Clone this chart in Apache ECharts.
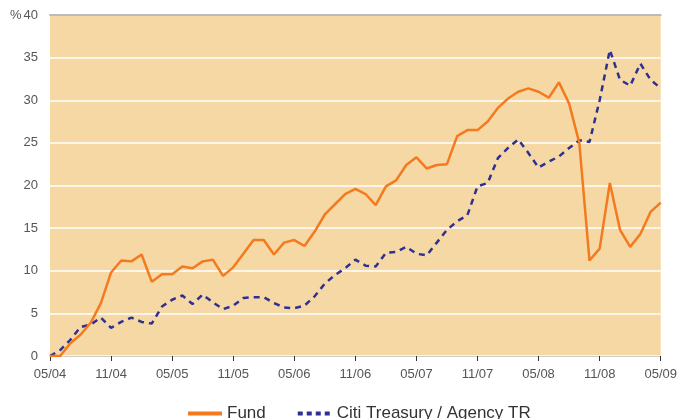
<!DOCTYPE html>
<html>
<head>
<meta charset="utf-8">
<script src="https://cdn.jsdelivr.net/npm/echarts@6/dist/echarts.min.js"></script>
<style>
  html, body { margin: 0; padding: 0; background: #fff; }
  #chart { width: 680px; height: 419px; }
</style>
</head>
<body>
<div id="chart"></div>
<script>
// monthly, 05/04 .. 05/09
const months = [];
for (let y = 4; y <= 9; y++) {
  for (let m = 1; m <= 12; m++) {
    if ((y === 4 && m < 5) || (y === 9 && m > 5)) continue;
    months.push(String(m).padStart(2, "0") + "/" + String(y).padStart(2, "0"));
  }
}

const fund = [
  0, 0, 1.5, 2.5, 3.9, 6.2, 9.8, 11.2, 11.1, 11.9,
  8.7, 9.6, 9.6, 10.5, 10.3, 11.1, 11.3, 9.4, 10.4, 12.0,
  13.6, 13.6, 11.9, 13.3, 13.6, 12.9, 14.6, 16.6, 17.8, 19.0,
  19.6, 19.0, 17.7, 19.9, 20.6, 22.4, 23.3, 22.0, 22.4, 22.5,
  25.8, 26.5, 26.5, 27.5, 29.1, 30.2, 31.0, 31.4, 31.0, 30.3,
  32.1, 29.6, 25.0, 11.2, 12.6, 20.3, 14.8, 12.8, 14.3, 16.9,
  18.0
];

const citi = [
  0, 0.7, 1.9, 3.4, 3.7, 4.5, 3.3, 4.0, 4.5, 4.0,
  3.8, 5.8, 6.6, 7.1, 6.1, 7.2, 6.3, 5.5, 5.9, 6.8,
  6.9, 6.9, 6.2, 5.7, 5.6, 5.9, 7.0, 8.5, 9.5, 10.3,
  11.3, 10.6, 10.5, 12.1, 12.2, 12.8, 12.0, 11.8, 13.3, 14.8,
  15.8, 16.5, 19.9, 20.3, 23.2, 24.4, 25.4, 23.8, 22.1, 22.8,
  23.4, 24.4, 25.3, 25.1, 30.0, 35.9, 32.4, 31.7, 34.3, 32.4,
  31.4
];

const chart = echarts.init(document.getElementById("chart"));
chart.setOption({
  animation: false,
  grid: {
    left: 50,
    right: 19,
    top: 15,
    bottom: 63,
    show: true,
    backgroundColor: "#f6d8a4",
    borderWidth: 0
  },
  legend: {
    left: 181,
    top: 400,
    itemWidth: 34,
    itemHeight: 10,
    itemGap: 30,
    itemStyle: { opacity: 0 },
    textStyle: { color: "#333", fontSize: 17, fontFamily: "Liberation Sans, Arial" },
    data: [
      { name: "Fund", lineStyle: { width: 4 } },
      { name: "Citi Treasury / Agency TR", lineStyle: { width: 4, type: [5, 4] } }
    ]
  },
  xAxis: [
    {
      type: "category",
      data: months,
      boundaryGap: false,
      axisLine: { lineStyle: { color: "#ccc", width: 1 } },
      axisTick: { interval: 5, length: 5, inside: false, lineStyle: { color: "#333" } },
      axisLabel: {
        interval: 5,
        color: "#555",
        fontSize: 13,
        margin: 12,
        fontFamily: "Liberation Sans, Arial"
      },
      splitLine: { show: false }
    },
    {
      type: "category",
      data: months,
      position: "top",
      boundaryGap: false,
      axisLine: { lineStyle: { color: "#bbb", width: 2 } },
      axisTick: { show: false },
      axisLabel: { show: false }
    }
  ],
  yAxis: {
    type: "value",
    min: 0,
    max: 40,
    interval: 5,
    axisLine: { show: false },
    axisTick: { show: false },
    axisLabel: {
      color: "#555",
      fontSize: 13,
      margin: 12,
      fontFamily: "Liberation Sans, Arial",
      formatter: v => (v === 40 ? "{p|%}40" : String(v)),
      rich: { p: { color: "#555", fontSize: 13, padding: [0, 2, 0, 0] } }
    },
    splitLine: { lineStyle: { color: "#ffffff", width: 1.5 } }
  },
  series: [
    {
      name: "Fund",
      type: "line",
      data: fund,
      symbol: "none",
      color: "#f47a20",
      lineStyle: { width: 2.5, color: "#f47a20" },
      z: 3
    },
    {
      name: "Citi Treasury / Agency TR",
      type: "line",
      data: citi,
      symbol: "none",
      color: "#2e3192",
      lineStyle: { width: 2.5, color: "#2e3192", type: [6, 5] },
      z: 2
    }
  ]
});
</script>
</body>
</html>
